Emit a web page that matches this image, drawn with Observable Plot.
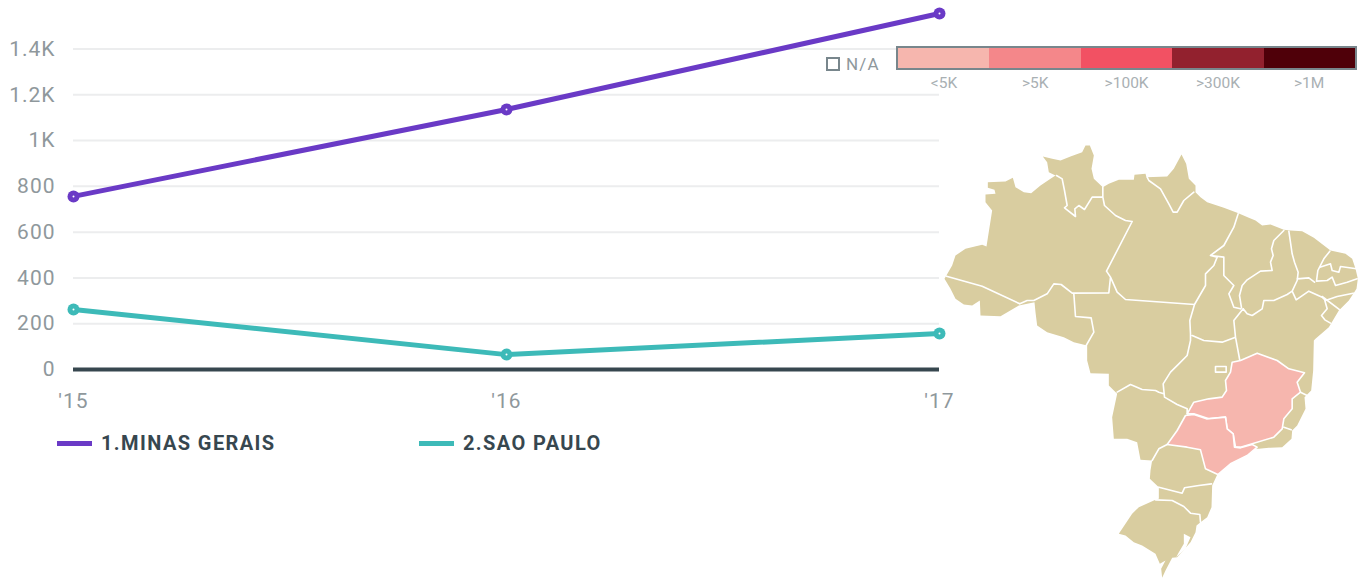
<!DOCTYPE html>
<html><head><meta charset="utf-8">
<script src="https://cdn.jsdelivr.net/npm/d3@7"></script>
<script src="https://cdn.jsdelivr.net/npm/@observablehq/plot@0.6"></script>
<style>
html,body{margin:0;padding:0;background:#fff;overflow:hidden}
#page{position:relative;width:1366px;height:582px;font-family:Roboto,sans-serif}
#page svg{position:absolute;background:transparent;overflow:visible}
#page svg text{letter-spacing:1px}
.abs{position:absolute;white-space:nowrap}
.leg{font-size:20px;font-weight:700;color:#37474f;letter-spacing:1.4px;line-height:24px}
.chip{height:5px;width:35px;position:absolute}
.lab{font-size:15.5px;color:#a9b0b3;width:60px;text-align:center;line-height:16px}
</style></head><body>
<div id="page"></div>
<script>
// ---- line chart data ----
const years = [2015, 2016, 2017];
const minasGerais = [756, 1136, 1555];
const saoPaulo = [262, 65, 157];
const gridValues = [200, 400, 600, 800, 1000, 1200, 1400];
const yTicks = [0, 200, 400, 600, 800, 1000, 1200, 1400];
const yLabels = ["0", "200", "400", "600", "800", "1K", "1.2K", "1.4K"];
const xLabels = ["'15", "'16", "'17"];
const seriesNames = ["1.MINAS GERAIS", "2.SAO PAULO"];
const seriesColors = ["#6a3ac6", "#3dbab8"];
// ---- map legend ----
const binLabels = ["<5K", ">5K", ">100K", ">300K", ">1M"];
const binColors = ["#f6b6ae", "#f4878a", "#f25163", "#92212e", "#4f0009"];
const landColor = "#d9cda0";
// ---- map geometry (map units) ----
const outline = [[12,445],[35,405],[45,375],[75,355],[125,343],[138,348],[155,240],[135,215],[135,192],[165,190],[162,178],[142,172],[142,155],[195,153],[217,142],[225,170],[250,185],[272,188],[300,165],[330,145],[345,135],[325,125],[320,95],[307,78],[335,85],[360,90],[390,78],[425,65],[435,45],[448,45],[460,75],[453,115],[460,145],[487,170],[505,160],[535,148],[580,148],[582,133],[615,130],[618,140],[680,138],[700,115],[723,72],[737,100],[745,145],[765,165],[765,185],[780,200],[800,215],[850,232],[890,247],[925,262],[945,270],[965,285],[990,282],[1030,298],[1050,300],[1085,302],[1120,322],[1170,360],[1215,370],[1235,385],[1245,415],[1252,445],[1248,475],[1225,510],[1195,540],[1165,590],[1125,625],[1120,630],[1118,720],[1112,780],[1092,800],[1095,835],[1070,885],[1055,900],[1053,925],[1025,950],[985,952],[955,955],[935,955],[910,980],[860,1005],[830,1033],[815,1065],[813,1130],[800,1160],[780,1175],[768,1185],[765,1205],[750,1235],[710,1280],[695,1282],[675,1320],[665,1342],[662,1315],[675,1290],[658,1300],[645,1270],[605,1245],[580,1235],[555,1215],[535,1210],[575,1150],[595,1130],[645,1108],[655,1105],[655,1070],[628,1045],[630,1020],[635,990],[600,988],[590,935],[560,925],[520,925],[515,860],[530,790],[505,765],[505,730],[450,728],[440,690],[440,645],[400,635],[370,620],[320,605],[290,585],[285,545],[282,515],[235,525],[180,557],[120,555],[118,510],[95,525],[70,522],[45,505],[30,475],[12,445]];
const minas = [[740,850],[760,815],[805,805],[845,800],[858,780],[855,750],[870,725],[875,695],[900,690],[950,668],[1010,690],[1045,715],[1092,727],[1070,755],[1080,785],[1055,805],[1055,835],[1030,865],[1025,895],[1000,920],[900,950],[885,950],[878,910],[860,895],[855,860],[805,865],[760,850],[740,850]];
const paulista = [[680,942],[710,900],[735,855],[760,852],[798,865],[855,860],[860,895],[878,910],[882,950],[900,952],[935,942],[950,950],[920,975],[870,1000],[832,1032],[795,1015],[780,958],[740,950],[680,942]];
const lagoon = [[730,1210],[750,1220],[735,1255],[707,1280],[715,1265],[730,1240],[730,1210]];
const borders = [
 [[18,437],[125,467],[238,520]],
 [[238,520],[260,510],[280,510],[320,490],[340,460],[362,462],[395,488]],
 [[400,490],[405,558],[452,562],[460,605],[437,645]],
 [[395,488],[505,487],[510,440],[498,422]],
 [[498,422],[575,273],[555,270],[525,255],[492,225],[487,200],[487,170]],
 [[348,135],[365,145],[372,180],[380,225],[372,232],[405,258],[403,235],[415,225],[432,237],[455,200],[487,200]],
 [[620,140],[625,150],[660,175],[685,220],[698,245],[710,245],[730,210],[760,185]],
 [[510,440],[530,485],[555,507],[762,522]],
 [[762,522],[795,465],[795,430],[820,405],[830,380],[810,375]],
 [[810,375],[850,345],[880,290],[893,250]],
 [[810,375],[850,380],[850,435],[880,465],[865,490],[880,530],[900,535]],
 [[1030,300],[1000,330],[993,355],[998,375],[990,395],[995,420],[960,422],[920,448],[905,465],[897,495],[903,532]],
 [[762,522],[748,570],[750,610],[750,630],[740,675],[715,700],[690,725],[668,760],[672,800]],
 [[755,615],[790,630],[845,635],[885,620]],
 [[908,535],[880,570],[885,620],[898,690]],
 [[908,535],[920,550],[935,555],[965,535],[970,510],[1000,510],[1040,492],[1055,482]],
 [[1045,302],[1055,370],[1062,395],[1073,425],[1070,450],[1055,482]],
 [[1070,445],[1105,442],[1122,455]],
 [[1168,362],[1150,385],[1132,420],[1128,452]],
 [[1138,410],[1170,400],[1175,420],[1195,425],[1200,408],[1248,415]],
 [[1128,452],[1160,450],[1175,440],[1185,465],[1220,455],[1250,445]],
 [[1055,482],[1067,508],[1105,482],[1145,500],[1155,510],[1190,498],[1238,488]],
 [[1145,498],[1198,538]],
 [[1153,510],[1160,535],[1143,555],[1153,568],[1170,578]],
 [[530,785],[570,762],[605,777],[645,780],[655,785],[670,790]],
 [[672,800],[710,822],[740,835],[740,850]],
 [[825,708],[857,708],[857,725],[825,725],[825,708]],
 [[1080,785],[1100,795]],
 [[1030,890],[1052,898]],
 [[680,942],[655,955],[635,990]],
 [[655,1070],[725,1088],[732,1072],[775,1065],[813,1060]],
 [[645,1108],[695,1110],[730,1128],[750,1148],[778,1152],[780,1175]]
];

const page = document.getElementById("page");
const rows = years.flatMap((y, i) => [
  {year: y, value: minasGerais[i], name: seriesNames[0]},
  {year: y, value: saoPaulo[i], name: seriesNames[1]}
]);
const chart = Plot.plot({
  width: 1366, height: 582,
  marginLeft: 73, marginRight: 427, marginTop: 13, marginBottom: 213,
  style: {background: "transparent", fontFamily: "Roboto,sans-serif"},
  x: {type: "linear", domain: [2015, 2017]},
  y: {domain: [0, 1555]},
  color: {domain: seriesNames, range: seriesColors},
  marks: [
    Plot.ruleY(gridValues, {stroke: "#ecedee", strokeWidth: 2}),
    Plot.axisY({ticks: yTicks, tickFormat: (d, i) => yLabels[i], tickSize: 0, tickPadding: 18, fontSize: 21, fill: "#8f989c", label: null}),
    Plot.axisX({ticks: years, tickFormat: (d, i) => xLabels[i], tickSize: 0, tickPadding: 24, fontSize: 21, fill: "#8f989c", label: null}),
    Plot.ruleY([0], {stroke: "#37474f", strokeWidth: 4}),
    Plot.line(rows, {x: "year", y: "value", z: "name", stroke: "name", strokeWidth: 5}),
    Plot.dot(rows, {x: "year", y: "value", fill: "name", r: 6}),
    Plot.dot(rows, {x: "year", y: "value", fill: "white", r: 1})
  ]
});
chart.style.left = "0"; chart.style.top = "0";
page.append(chart);

const poly = (c) => ({type: "Polygon", coordinates: [c]});
const map = Plot.plot({
  width: 426, height: 452, margin: 0,
  style: {background: "transparent"},
  projection: d3.geoIdentity().scale(1 / 3),
  marks: [
    Plot.geo([poly(outline)], {fill: landColor, stroke: "none"}),
    Plot.geo([{type: "MultiLineString", coordinates: borders}], {stroke: "#fff", strokeWidth: 1.6, fill: "none"}),
    Plot.geo([poly(lagoon)], {fill: "#fff", stroke: "none"}),
    Plot.geo([poly(minas), poly(paulista)], {fill: binColors[0], stroke: "#fff", strokeWidth: 1.6})
  ]
});
map.style.left = "940px"; map.style.top = "130px";
page.append(map);

// HTML legends
function abs(css, cls, txt) {
  const e = document.createElement("div");
  e.className = cls || "abs"; e.style.cssText = "position:absolute;" + css;
  if (txt != null) e.textContent = txt;
  page.append(e); return e;
}
[[57, 101], [419, 463]].forEach(([cx, tx], i) => {
  abs(`left:${cx}px;top:441px;background:${seriesColors[i]}`, "chip");
  abs(`left:${tx}px;top:431px`, "abs leg", seriesNames[i]);
});
abs("left:826px;top:57px;width:10px;height:10px;border:2px solid #78868c");
abs("left:846px;top:55px;font-size:17px;color:#8f989c;line-height:18px;letter-spacing:1.2px", "abs", "N/A");
const frame = abs("left:896px;top:46px;width:457px;height:20px;border:2px solid #78868c;display:flex");
binColors.forEach((c, i) => {
  const s = document.createElement("div");
  s.style.cssText = `flex:1;background:${c}`;
  frame.append(s);
  abs(`left:${914 + i * 91.3}px;top:75px`, "abs lab", binLabels[i]);
});
</script>
</body></html>
